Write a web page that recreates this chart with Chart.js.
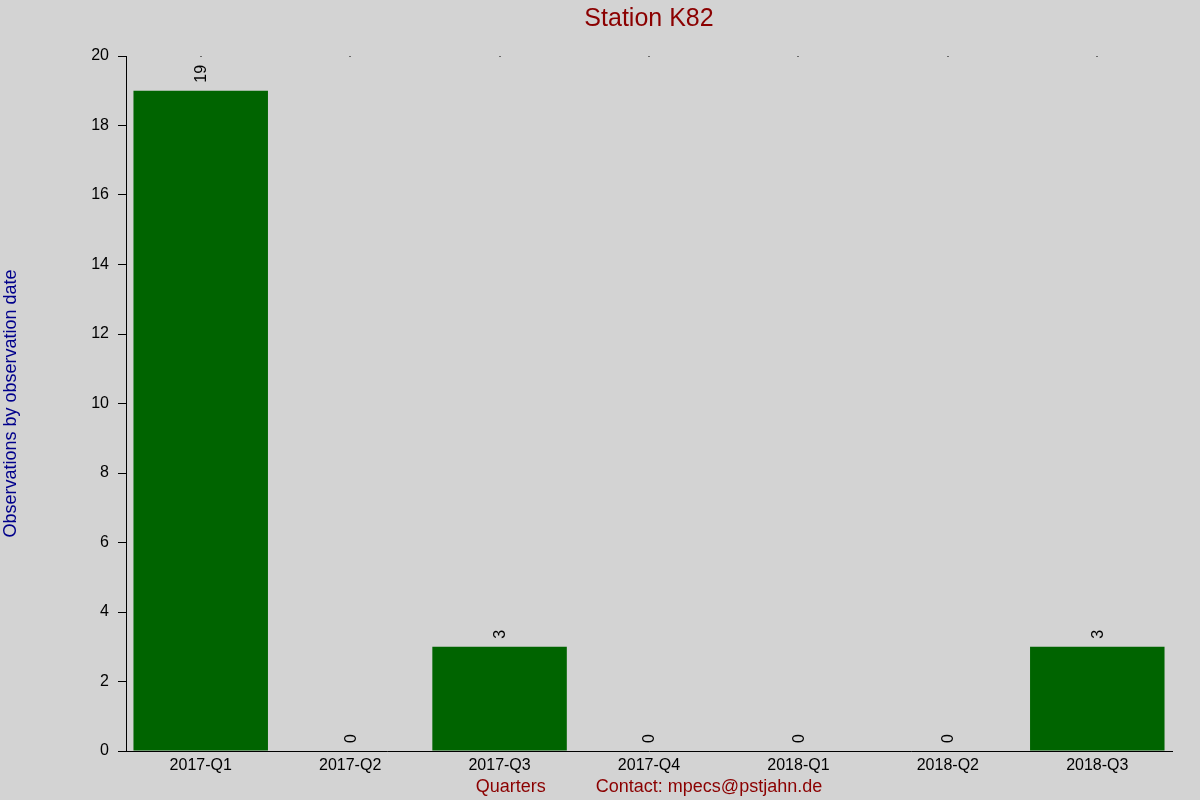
<!DOCTYPE html>
<html>
<head>
<meta charset="utf-8">
<script src="https://cdn.jsdelivr.net/npm/chart.js@4/dist/chart.umd.min.js"></script>
<style>
html,body{margin:0;padding:0;background:#d3d3d3;}
#wrap{width:1200px;height:800px;}
</style>
</head>
<body>
<div id="wrap"><canvas id="c" width="1200" height="800"></canvas></div>
<script>
const categories = ["2017-Q1","2017-Q2","2017-Q3","2017-Q4","2018-Q1","2018-Q2","2018-Q3"];
const observations = [19, 0, 3, 0, 0, 0, 3];
const yTicks = [0,2,4,6,8,10,12,14,16,18,20];
const chartTitle = 'Station K82';

const FONT = '"Liberation Sans", Arial, sans-serif';

const barLabels = {
  id: 'barLabels',
  afterDatasetsDraw(chart) {
    const ctx = chart.ctx;
    const meta = chart.getDatasetMeta(0);
    const area = chart.chartArea;
    ctx.save();
    ctx.fillStyle = '#000';
    ctx.font = '16px ' + FONT;
    ctx.textAlign = 'left';
    ctx.textBaseline = 'middle';
    meta.data.forEach((bar, i) => {
      ctx.save();
      ctx.translate(bar.x + 1, bar.y - 8);
      ctx.rotate(-Math.PI / 2);
      ctx.fillText(String(observations[i]), 0, 0);
      ctx.restore();
    });
    // small dots at top of chart area at category centres
    const xs = chart.scales.x;
    categories.forEach((c, i) => {
      const x = xs.getPixelForValue(i);
      ctx.fillRect(Math.round(x) - 0.5, area.top, 1, 1);
    });
    // title centred over the plot area
    ctx.fillStyle = '#8b0000';
    ctx.font = '25px ' + FONT;
    ctx.textAlign = 'center';
    ctx.textBaseline = 'middle';
    ctx.fillText(chartTitle, (area.left + area.right) / 2, area.top - 37);
    ctx.restore();
  }
};

const bgPlugin = {
  id: 'bg',
  beforeDraw(chart) {
    const ctx = chart.ctx;
    ctx.save();
    ctx.fillStyle = '#d3d3d3';
    ctx.fillRect(0, 0, chart.width, chart.height);
    ctx.restore();
  }
};

new Chart(document.getElementById('c'), {
  type: 'bar',
  data: {
    labels: categories,
    datasets: [{
      data: observations,
      backgroundColor: '#006400',
      borderWidth: 0,
      barPercentage: 0.9,
      categoryPercentage: 1.0
    }]
  },
  options: {
    responsive: false,
    animation: false,
    devicePixelRatio: 1,
    layout: { padding: { left: 0, right: 28, top: 56, bottom: 0 } },
    plugins: {
      legend: { display: false },
      tooltip: { enabled: false },
      title: { display: false }
    },
    scales: {
      x: {
        grid: { display: false, drawTicks: false },
        border: { display: true, color: '#000', width: 1 },
        ticks: {
          color: '#000',
          font: { family: FONT, size: 16 },
          padding: 5,
          maxRotation: 0
        },
        title: {
          display: true,
          text: 'Quarters          Contact: mpecs@pstjahn.de',
          color: '#8b0000',
          font: { family: FONT, size: 18 },
          padding: { top: 0, bottom: 2 }
        },
        afterFit(scale) { scale.height = 49; }
      },
      y: {
        min: 0,
        max: 20,
        afterBuildTicks(scale) { scale.ticks = yTicks.map(v => ({ value: v })); },
        grid: { display: true, drawOnChartArea: false, drawTicks: true, tickLength: 8, color: '#000' },
        border: { display: true, color: '#000', width: 1 },
        ticks: {
          color: '#000',
          font: { family: FONT, size: 16 },
          padding: 9
        },
        title: {
          display: true,
          text: 'Observations by observation date',
          color: '#00008b',
          font: { family: FONT, size: 18 },
          padding: 0
        },
        afterFit(scale) { scale.width = 126; }
      }
    }
  },
  plugins: [bgPlugin, barLabels]
});
</script>
</body>
</html>
